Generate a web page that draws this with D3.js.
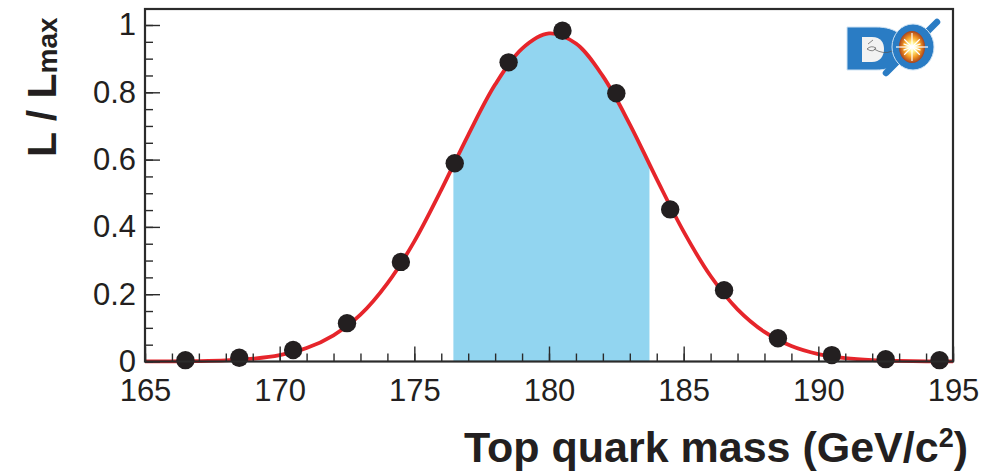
<!DOCTYPE html>
<html>
<head>
<meta charset="utf-8">
<script src="https://cdn.jsdelivr.net/npm/d3@7"></script>
<style>
  html, body { margin: 0; padding: 0; background: #ffffff; }
  svg { display: block; font-family: "Liberation Sans", Arial, Helvetica, sans-serif; }
</style>
</head>
<body>
<svg id="chart" width="1008" height="476"></svg>
<script>
// Likelihood scan points (top mass in GeV/c^2, L / Lmax)
const scanMass = [166.5, 168.5, 170.5, 172.5, 174.5, 176.5, 178.5, 180.5, 182.5, 184.5, 186.5, 188.5, 190.5, 192.5, 194.5];
const scanL    = [0.004, 0.011, 0.034, 0.114, 0.296, 0.589, 0.889, 0.983, 0.797, 0.452, 0.212, 0.069, 0.019, 0.007, 0.004];

// Fitted likelihood curve, sampled every 1 GeV/c^2
const curveMass = [165, 166, 167, 168, 169, 170, 171, 172, 173, 174, 175, 176, 177, 178, 179, 180,
                   181, 182, 183, 184, 185, 186, 187, 188, 189, 190, 191, 192, 193, 194, 195];
const curveL    = [0.0001, 0.0005, 0.0013, 0.0034, 0.0084, 0.019, 0.040, 0.078, 0.139, 0.232, 0.357, 0.510, 0.673, 0.823, 0.930, 0.975,
                   0.945, 0.848, 0.705, 0.542, 0.386, 0.254, 0.155, 0.088, 0.046, 0.022, 0.010, 0.004, 0.0016, 0.0006, 0.0002];

// 68% interval shaded under the curve
const bandLow = 176.45;
const bandHigh = 183.73;

// Axis ticks
const xMajorTicks = [165, 170, 175, 180, 185, 190, 195];
const xMinorTicks = d3.range(165, 196, 1);
const yMajorTicks = [0, 0.2, 0.4, 0.6, 0.8, 1];
const yMinorTicks = d3.range(0, 1.0001, 0.05);

const svg = d3.select("#chart");
const plotLeft = 145, plotRight = 953, plotTop = 9, plotBottom = 361.5;

const x = d3.scaleLinear().domain([165, 195]).range([plotLeft, plotRight]);
const y = d3.scaleLinear().domain([0, 1]).range([plotBottom, 25]);

const curvePts = curveMass.map((m, i) => [m, curveL[i]]);

// clip for the shaded interval
const defs = svg.append("defs");
defs.append("clipPath").attr("id", "bandClip")
  .append("rect")
  .attr("x", x(bandLow)).attr("y", plotTop)
  .attr("width", x(bandHigh) - x(bandLow)).attr("height", plotBottom - plotTop);

const area = d3.area()
  .x(d => x(d[0])).y0(y(0)).y1(d => y(d[1]))
  .curve(d3.curveCatmullRom);

svg.append("path")
  .datum(curvePts)
  .attr("clip-path", "url(#bandClip)")
  .attr("d", area)
  .attr("fill", "#92d5f0");

// fitted curve
const line = d3.line().x(d => x(d[0])).y(d => y(d[1])).curve(d3.curveCatmullRom);
svg.append("path")
  .datum(curvePts)
  .attr("d", line)
  .attr("fill", "none")
  .attr("stroke", "#e6252b")
  .attr("stroke-width", 3.8);

// scan points
svg.append("g").selectAll("circle")
  .data(scanMass.map((m, i) => [m, scanL[i]]))
  .join("circle")
  .attr("cx", d => x(d[0]))
  .attr("cy", d => y(d[1]))
  .attr("r", 9.2)
  .attr("fill", "#231f20");

// axes with inward ticks
const axisColor = "#2b2b2b";
const xMinor = svg.append("g").attr("transform", `translate(0,${plotBottom})`)
  .call(d3.axisBottom(x).tickValues(xMinorTicks).tickSize(-8).tickFormat(""));
const xMajor = svg.append("g").attr("transform", `translate(0,${plotBottom})`)
  .call(d3.axisBottom(x).tickValues(xMajorTicks).tickSize(-15).tickPadding(17).tickFormat(d3.format("d")));
const yMinor = svg.append("g").attr("transform", `translate(${plotLeft},0)`)
  .call(d3.axisLeft(y).tickValues(yMinorTicks).tickSize(-8).tickFormat(""));
const yMajor = svg.append("g").attr("transform", `translate(${plotLeft},0)`)
  .call(d3.axisLeft(y).tickValues(yMajorTicks).tickSize(-15).tickPadding(9)
        .tickFormat(d => d === 0 ? "0" : d === 1 ? "1" : d3.format(".1f")(d)));

[xMinor, xMajor, yMinor, yMajor].forEach(g => {
  g.select(".domain").remove();
  g.selectAll(".tick line").attr("stroke", axisColor).attr("stroke-width", 1.4);
  g.selectAll(".tick text").attr("fill", "#231f20").attr("font-size", 31);
});

// frame
svg.append("rect")
  .attr("x", plotLeft).attr("y", plotTop)
  .attr("width", plotRight - plotLeft).attr("height", plotBottom - plotTop)
  .attr("fill", "none")
  .attr("stroke", axisColor)
  .attr("stroke-width", 2.2);

// axis titles
const xt = svg.append("text")
  .attr("x", 968).attr("y", 462)
  .attr("text-anchor", "end")
  .attr("font-weight", "bold")
  .attr("font-size", 43)
  .attr("fill", "#231f20");
xt.append("tspan").text("Top quark mass (GeV/c");
xt.append("tspan").attr("font-size", 27).attr("dy", -15).text("2");
xt.append("tspan").attr("dy", 15).text(")");

const yt = svg.append("text")
  .attr("transform", "translate(56,157) rotate(-90)")
  .attr("text-anchor", "start")
  .attr("font-weight", "bold")
  .attr("font-size", 41)
  .attr("fill", "#231f20");
yt.append("tspan").text("L / L");
yt.append("tspan").attr("font-size", 28).attr("dy", 1).text("max");

// experiment logo
const logo = svg.append("g");
const grad = defs.append("radialGradient").attr("id", "burst");
grad.append("stop").attr("offset", "0%").attr("stop-color", "#ffffff");
grad.append("stop").attr("offset", "30%").attr("stop-color", "#fff38a");
grad.append("stop").attr("offset", "65%").attr("stop-color", "#f39a24");
grad.append("stop").attr("offset", "100%").attr("stop-color", "#a8421c");

const logoBlue = "#2a7cc4";
logo.append("path")
  .attr("d", "M847,27 L876,27 C897,27 906,37 906,48 C906,60 897,70 876,70 L847,70 Z")
  .attr("fill", logoBlue).attr("stroke", "#cfe3f4").attr("stroke-width", 1);
logo.append("path")
  .attr("d", "M862,37 L872,37 C881,37 884,43 884,49 C884,56 880,62 872,62 L862,62 Z")
  .attr("fill", "#f2f2f2");
logo.append("path")
  .attr("d", "M868,44 l5,-4 M867,49 q4,-4 9,-1 q-3,5 -9,1 M874,49 q10,6 18,2")
  .attr("fill", "none").attr("stroke", "#555").attr("stroke-width", 0.7);
logo.append("line")
  .attr("x1", 886).attr("y1", 73).attr("x2", 937).attr("y2", 22)
  .attr("stroke", logoBlue).attr("stroke-width", 6.5).attr("stroke-linecap", "round");
logo.append("ellipse")
  .attr("cx", 913).attr("cy", 47).attr("rx", 21).attr("ry", 23)
  .attr("fill", logoBlue).attr("stroke", "#cfe3f4").attr("stroke-width", 1);
logo.append("ellipse")
  .attr("cx", 912).attr("cy", 47).attr("rx", 13).attr("ry", 16)
  .attr("fill", "url(#burst)");
const rays = [[0, 16], [45, 11], [90, 14], [135, 11], [180, 16], [225, 11], [270, 14], [315, 11], [20, 9], [160, 9], [200, 9], [340, 9]];
logo.append("g").selectAll("line")
  .data(rays)
  .join("line")
  .attr("x1", 912).attr("y1", 47)
  .attr("x2", d => 912 + d[1] * Math.cos(d[0] * Math.PI / 180))
  .attr("y2", d => 47 + d[1] * Math.sin(d[0] * Math.PI / 180))
  .attr("stroke", "#ffffff").attr("stroke-width", 1.2);
</script>
</body>
</html>
